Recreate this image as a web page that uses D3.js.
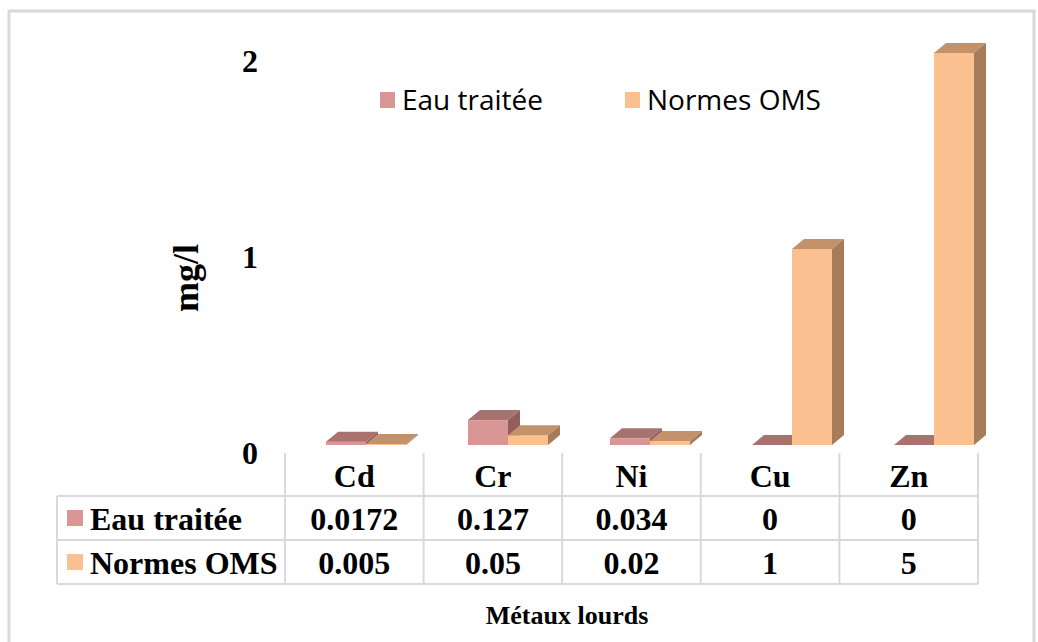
<!DOCTYPE html>
<html>
<head>
<meta charset="utf-8">
<script src="https://cdn.jsdelivr.net/npm/d3@7"></script>
<style>
  body { margin: 0; background: #fff; }
  svg { display: block; }
  .serif { font-family: "Liberation Serif", "Times New Roman", serif; font-weight: bold; fill: #000; }
  .legend { font-family: "Open Sans", sans-serif; fill: #000; }
</style>
</head>
<body>
<div id="chart"></div>
<script>
// data
var categories = ["Cd", "Cr", "Ni", "Cu", "Zn"];
var seriesNames = ["Eau traitée", "Normes OMS"];
var eauTraitee = [0.0172, 0.127, 0.034, 0, 0];
var normesOMS = [0.005, 0.05, 0.02, 1, 5];
var yTicks = [0, 1, 2];

var colors = {
  front: ["#d99694", "#fac090"],
  top:   ["#a8726f", "#c3926b"],
  side:  ["#925f5d", "#a67c59"]
};

var W = 1038, H = 642;
var svg = d3.select("#chart").append("svg")
  .attr("width", W).attr("height", H);

// outer frame
svg.append("rect")
  .attr("x", 9).attr("y", 11)
  .attr("width", 1025).attr("height", 660)
  .attr("fill", "none")
  .attr("stroke", "#d9d9d9")
  .attr("stroke-width", 3);

// scales
var y = d3.scaleLinear().domain([0, 2]).range([445, 53]).clamp(true);
var xBars = d3.scaleBand().domain(categories).range([295, 1005]);
var xTable = d3.scaleBand().domain(categories).range([285, 978]);
var depth = { dx: 12, dy: 10 };
var barW = 40;

// y tick labels
svg.selectAll(".ytick").data(yTicks).enter().append("text")
  .attr("class", "serif ytick")
  .attr("x", 250)
  .attr("y", function(d){ return y(d) + 12; })
  .attr("text-anchor", "middle")
  .attr("dominant-baseline", "middle")
  .style("font-size", "32px")
  .text(function(d){ return d; });

// y title
svg.append("text")
  .attr("class", "serif")
  .attr("transform", "translate(198,278) rotate(-90)")
  .attr("text-anchor", "middle")
  .style("font-size", "36px")
  .text("mg/l");

// bars
var series = [eauTraitee, normesOMS];
var bars = svg.append("g");
categories.forEach(function(cat, i){
  var cx = xBars(cat) + xBars.bandwidth() / 2;
  series.forEach(function(vals, s){
    var x0 = cx - barW + s * barW, x1 = x0 + barW;
    var yt = y(vals[i]), yb = y(0);
    var g = bars.append("g");
    g.append("rect")
      .attr("x", x0).attr("y", yt)
      .attr("width", barW).attr("height", yb - yt)
      .attr("fill", colors.front[s]);
    g.append("polygon")
      .attr("points", [[x0, yt], [x0 + depth.dx, yt - depth.dy], [x1 + depth.dx, yt - depth.dy], [x1, yt]].join(" "))
      .attr("fill", colors.top[s]);
    g.append("polygon")
      .attr("points", [[x1, yt], [x1 + depth.dx, yt - depth.dy], [x1 + depth.dx, yb - depth.dy], [x1, yb]].join(" "))
      .attr("fill", colors.side[s]);
  });
});

// legend
var legend = svg.append("g");
var legendX = [380, 625];
seriesNames.forEach(function(name, s){
  legend.append("rect")
    .attr("x", legendX[s]).attr("y", 92)
    .attr("width", 15).attr("height", 16)
    .attr("fill", colors.front[s]);
  legend.append("text")
    .attr("class", "legend")
    .attr("x", legendX[s] + 22).attr("y", 110)
    .style("font-size", "28px")
    .text(name);
});

// data table
var table = svg.append("g");
var lineColor = "#d9d9d9";
var rowY = [453, 496, 540, 584];
var tableLeft = 57, tableRight = 978;

var colEdges = [285].concat(categories.map(function(c){ return xTable(c) + xTable.bandwidth(); }));
colEdges.forEach(function(x){
  table.append("line")
    .attr("x1", x).attr("x2", x)
    .attr("y1", rowY[0]).attr("y2", rowY[3])
    .attr("stroke", lineColor).attr("stroke-width", 2);
});
table.append("line")
  .attr("x1", tableLeft).attr("x2", tableLeft)
  .attr("y1", rowY[1]).attr("y2", rowY[3])
  .attr("stroke", lineColor).attr("stroke-width", 2);
[rowY[1], rowY[2], rowY[3]].forEach(function(yy){
  table.append("line")
    .attr("x1", tableLeft).attr("x2", tableRight)
    .attr("y1", yy).attr("y2", yy)
    .attr("stroke", lineColor).attr("stroke-width", 2);
});

// category labels
table.selectAll(".cat").data(categories).enter().append("text")
  .attr("class", "serif cat")
  .attr("x", function(d){ return xTable(d) + xTable.bandwidth() / 2; })
  .attr("y", 487)
  .attr("text-anchor", "middle")
  .style("font-size", "32px")
  .text(function(d){ return d; });

// rows
series.forEach(function(vals, s){
  var baseY = rowY[s + 1] + 34;
  table.append("rect")
    .attr("x", 67).attr("y", rowY[s + 1] + 14)
    .attr("width", 16).attr("height", 16)
    .attr("fill", colors.front[s]);
  table.append("text")
    .attr("class", "serif")
    .attr("x", 90).attr("y", baseY)
    .style("font-size", "32px")
    .text(seriesNames[s]);
  table.selectAll(".v" + s).data(vals).enter().append("text")
    .attr("class", "serif v" + s)
    .attr("x", function(d, i){ return xTable(categories[i]) + xTable.bandwidth() / 2; })
    .attr("y", baseY)
    .attr("text-anchor", "middle")
    .style("font-size", "32px")
    .text(function(d){ return String(d); });
});

// x title
svg.append("text")
  .attr("class", "serif")
  .attr("x", 567).attr("y", 624)
  .attr("text-anchor", "middle")
  .style("font-size", "26px")
  .text("Métaux lourds");
</script>
</body>
</html>
